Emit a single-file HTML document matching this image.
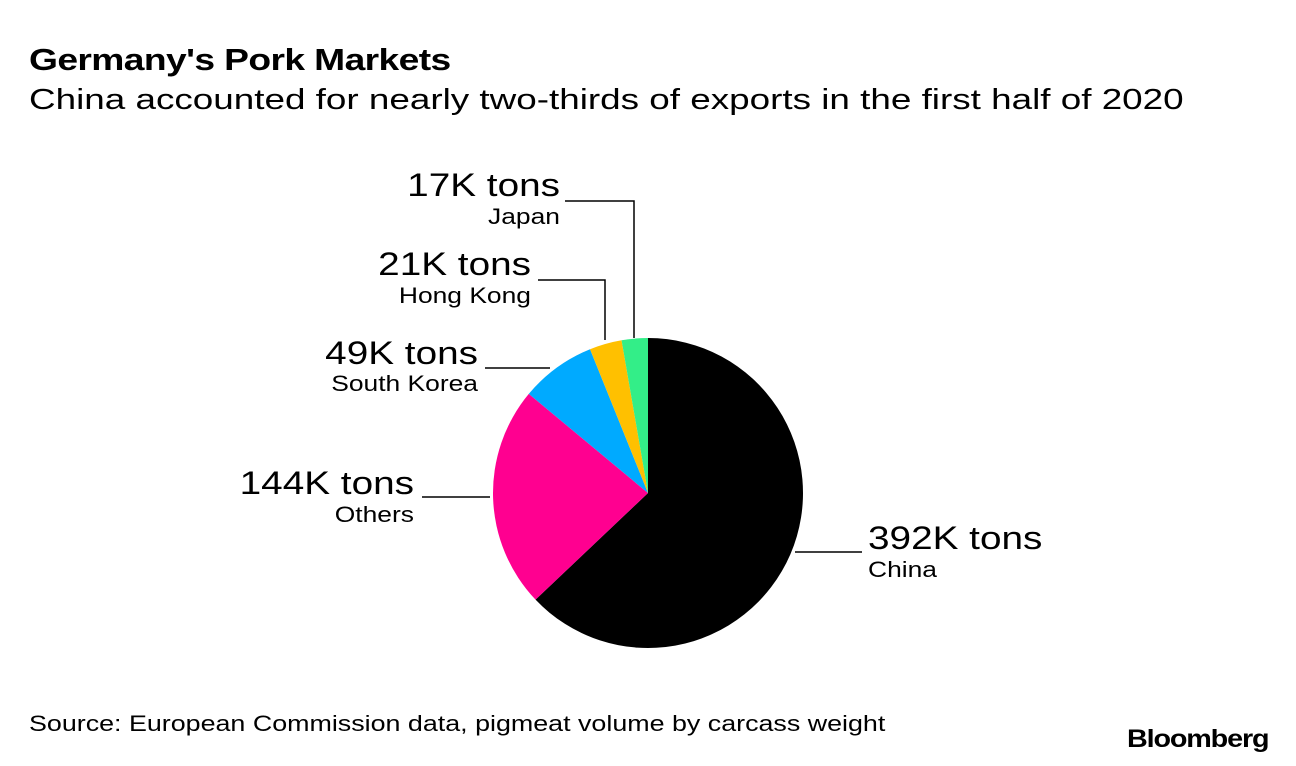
<!DOCTYPE html>
<html><head><meta charset="utf-8"><style>
body{margin:0;background:#fff;width:1296px;height:766px;overflow:hidden;font-family:"Liberation Sans",Arial,sans-serif;}
.t,.s,.src,.logo{position:absolute;transform-origin:0 0;white-space:nowrap;color:#000}
.t{left:29px;top:42px;font-size:31px;font-weight:bold;letter-spacing:-0.5px;transform:scaleX(1.2)}
.s{left:29px;top:84px;font-size:29px;transform:scaleX(1.27)}
.src{left:29px;top:711px;font-size:22px;transform:scaleX(1.22)}
.logo{left:1127px;top:725px;font-size:25px;font-weight:bold;letter-spacing:-1px;transform:scaleX(1.15)}
svg{position:absolute;left:0;top:0}
</style></head><body>
<div class="t">Germany's Pork Markets</div>
<div class="s">China accounted for nearly two-thirds of exports in the first half of 2020</div>
<svg id="c" width="1296" height="766"></svg>
<div class="src">Source: European Commission data, pigmeat volume by carcass weight</div>
<div class="logo">Bloomberg</div>
<script>
const categories=["China","Others","South Korea","Hong Kong","Japan"];
const values=[392,144,49,21,17];
const valueLabels=["392K tons","144K tons","49K tons","21K tons","17K tons"];
const colors=["#000000","#ff0090","#00aaff","#ffc000","#33ee88"];
const svg=document.getElementById('c');
const NS="http://www.w3.org/2000/svg";
const cx=648,cy=493,r=155;
const total=values.reduce((a,b)=>a+b,0);
function pt(a,rr){return [cx+rr*Math.sin(a),cy-rr*Math.cos(a)];}
let a0=0;
values.forEach((v,i)=>{
  const a1=a0+v/total*2*Math.PI;
  const p0=pt(a0,r),p1=pt(a1,r);
  const large=(a1-a0)>Math.PI?1:0;
  const p=document.createElementNS(NS,'path');
  p.setAttribute('d',`M${cx},${cy}L${p0[0]},${p0[1]}A${r},${r} 0 ${large} 1 ${p1[0]},${p1[1]}Z`);
  p.setAttribute('fill',colors[i]);
  
  
  svg.appendChild(p);
  a0=a1;
});
const ann=[
 {line:"M795,552H862",x:868,y1:547,y2:575,anchor:"start"},
 {line:"M422,497H490",x:414,y1:492,y2:520,anchor:"end"},
 {line:"M485,368H550",x:478,y1:362,y2:389,anchor:"end"},
 {line:"M538,280H605V340",x:531,y1:273,y2:301,anchor:"end"},
 {line:"M565,201H634V338",x:560,y1:194,y2:222,anchor:"end"}
];
function fit(t,s){const w=t.getComputedTextLength();t.setAttribute('textLength',w*s);t.setAttribute('lengthAdjust','spacingAndGlyphs');}
ann.forEach((a,i)=>{
  const l=document.createElementNS(NS,'path');
  l.setAttribute('d',a.line);l.setAttribute('fill','none');l.setAttribute('stroke','#000');l.setAttribute('stroke-width','1.5');
  
  
  svg.appendChild(l);
  const t=document.createElementNS(NS,'text');
  t.setAttribute('x',a.x);t.setAttribute('y',a.y1+2);t.setAttribute('font-size','32');t.setAttribute('text-anchor',a.anchor);
  t.setAttribute('font-family','Liberation Sans, Arial, sans-serif');
  t.textContent=valueLabels[i];
  
  
  svg.appendChild(t);
  fit(t,1.21);
  const n=document.createElementNS(NS,'text');
  n.setAttribute('x',a.x);n.setAttribute('y',a.y2+2);n.setAttribute('font-size','22');n.setAttribute('text-anchor',a.anchor);
  n.setAttribute('font-family','Liberation Sans, Arial, sans-serif');
  n.textContent=categories[i];
  
  
  svg.appendChild(n);
  fit(n,1.2);
});
</script>
</body></html>
